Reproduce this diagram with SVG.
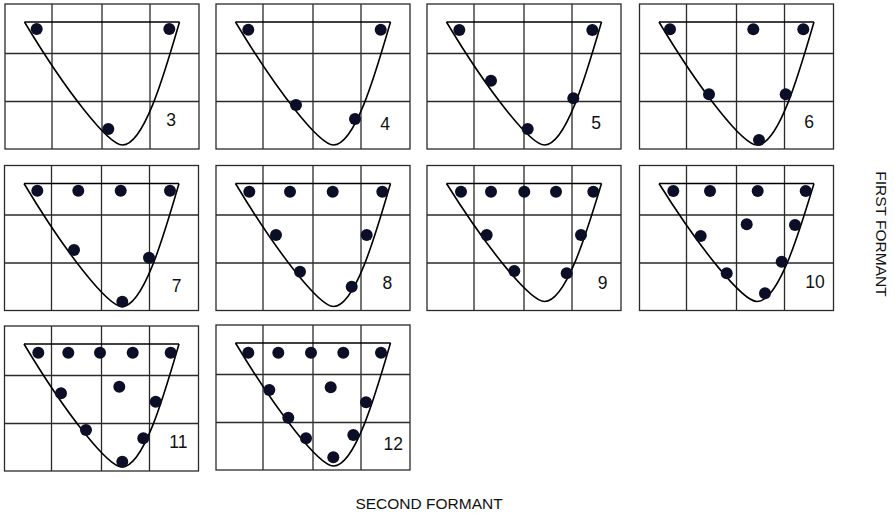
<svg xmlns="http://www.w3.org/2000/svg" xmlns:xlink="http://www.w3.org/1999/xlink" width="895" height="514" viewBox="0 0 895 514">
<style>
.grid{fill:none;stroke:#2a2a2a;stroke-width:1.3}
.curve{fill:none;stroke:#000;stroke-width:1.6}
.dot{fill:#0b0e26}
.num{font-family:"Liberation Sans",Arial,sans-serif;font-size:17.5px;fill:#111;text-anchor:middle}
.axis{font-family:"Liberation Sans",Arial,sans-serif;font-size:15.5px;fill:#111;text-anchor:middle}
</style>
<defs>
<g id="frame">
<rect class="grid" x="0" y="0" width="194" height="145"/>
<path class="grid" d="M47,0V145M97,0V145M145,0V145M0,49.5H194M0,97.5H194"/>
<path class="curve" d="M19.5,18H174.5"/>
</g>
<path id="curve" class="curve" d="M19.5,18C61.5,88 103.5,141 117.5,141C139.5,141 160.5,66 174.5,18"/>
<path id="curveB" class="curve" d="M19.5,18C61.5,85 103.5,136 117.5,136C139.5,136 160.5,64 174.5,18"/>
</defs>
<rect width="895" height="514" fill="#fff"/>

<g id="panel-3">
<use xlink:href="#frame" x="5" y="4"/><use xlink:href="#curve" x="5" y="4"/>
<circle class="dot" cx="36.7" cy="29" r="6"/><circle class="dot" cx="169.3" cy="29" r="6"/><circle class="dot" cx="108.3" cy="129" r="6"/>
<text class="num" x="171" y="126">3</text>
</g>
<g id="panel-4">
<use xlink:href="#frame" x="216" y="4"/><use xlink:href="#curve" x="216" y="4"/>
<circle class="dot" cx="248.3" cy="29.7" r="6"/><circle class="dot" cx="380.7" cy="29.7" r="6"/><circle class="dot" cx="296" cy="105" r="6"/><circle class="dot" cx="355" cy="119" r="6"/>
<text class="num" x="385" y="130">4</text>
</g>
<g id="panel-5">
<use xlink:href="#frame" x="427" y="4"/><use xlink:href="#curve" x="427" y="4"/>
<circle class="dot" cx="459.3" cy="30" r="6"/><circle class="dot" cx="592.3" cy="30" r="6"/><circle class="dot" cx="491" cy="80.7" r="6"/><circle class="dot" cx="573.3" cy="98.3" r="6"/><circle class="dot" cx="527.7" cy="129" r="6"/>
<text class="num" x="596" y="128.5">5</text>
</g>
<g id="panel-6">
<use xlink:href="#frame" x="639.5" y="4"/><use xlink:href="#curve" x="639.5" y="4"/>
<circle class="dot" cx="670" cy="29.3" r="6"/><circle class="dot" cx="753.3" cy="29.3" r="6"/><circle class="dot" cx="803.3" cy="29.3" r="6"/><circle class="dot" cx="709" cy="94.3" r="6"/><circle class="dot" cx="785.7" cy="94.3" r="6"/><circle class="dot" cx="759" cy="140" r="6"/>
<text class="num" x="809" y="128.3">6</text>
</g>

<g id="panel-7">
<use xlink:href="#frame" x="4.5" y="165.5"/><use xlink:href="#curve" x="4.5" y="165.5"/>
<circle class="dot" cx="37.3" cy="190.7" r="6"/><circle class="dot" cx="78.3" cy="190.7" r="6"/><circle class="dot" cx="120.7" cy="190.7" r="6"/><circle class="dot" cx="170" cy="190.7" r="6"/><circle class="dot" cx="74" cy="250" r="6"/><circle class="dot" cx="149" cy="257.7" r="6"/><circle class="dot" cx="122.3" cy="301.7" r="6"/>
<text class="num" x="176.7" y="291.7">7</text>
</g>
<g id="panel-8">
<use xlink:href="#frame" x="216" y="165.5"/><use xlink:href="#curve" x="216" y="165.5"/>
<circle class="dot" cx="249.3" cy="191.7" r="6"/><circle class="dot" cx="290" cy="191.7" r="6"/><circle class="dot" cx="332.7" cy="191.7" r="6"/><circle class="dot" cx="382.3" cy="191.7" r="6"/><circle class="dot" cx="276" cy="235" r="6"/><circle class="dot" cx="366.7" cy="235" r="6"/><circle class="dot" cx="300" cy="271.7" r="6"/><circle class="dot" cx="351.7" cy="286.7" r="6"/>
<text class="num" x="387.3" y="289.3">8</text>
</g>
<g id="panel-9">
<use xlink:href="#frame" x="427" y="165.5"/><use xlink:href="#curveB" x="427" y="165.5"/>
<circle class="dot" cx="461" cy="191.7" r="6"/><circle class="dot" cx="491" cy="191.7" r="6"/><circle class="dot" cx="524.3" cy="191.7" r="6"/><circle class="dot" cx="556" cy="191.7" r="6"/><circle class="dot" cx="593.3" cy="191.7" r="6"/><circle class="dot" cx="486.7" cy="235" r="6"/><circle class="dot" cx="581" cy="235" r="6"/><circle class="dot" cx="514.3" cy="271" r="6"/><circle class="dot" cx="566.7" cy="273.3" r="6"/>
<text class="num" x="602.7" y="289.3">9</text>
</g>
<g id="panel-10">
<use xlink:href="#frame" x="639.5" y="165.5"/><use xlink:href="#curveB" x="639.5" y="165.5"/>
<circle class="dot" cx="673.3" cy="191" r="6"/><circle class="dot" cx="710" cy="191" r="6"/><circle class="dot" cx="757.7" cy="191" r="6"/><circle class="dot" cx="805.7" cy="191" r="6"/><circle class="dot" cx="746.7" cy="224.3" r="6"/><circle class="dot" cx="795" cy="225" r="6"/><circle class="dot" cx="700.7" cy="236" r="6"/><circle class="dot" cx="781.7" cy="261.7" r="6"/><circle class="dot" cx="726.7" cy="273.3" r="6"/><circle class="dot" cx="765" cy="293.3" r="6"/>
<text class="num" x="815" y="288.3">10</text>
</g>

<g id="panel-11">
<use xlink:href="#frame" x="4.5" y="326"/><use xlink:href="#curve" x="4.5" y="326"/>
<circle class="dot" cx="38.3" cy="352.7" r="6"/><circle class="dot" cx="68.3" cy="352.7" r="6"/><circle class="dot" cx="100" cy="352.7" r="6"/><circle class="dot" cx="132.7" cy="352.7" r="6"/><circle class="dot" cx="170.7" cy="352.7" r="6"/><circle class="dot" cx="61" cy="393.3" r="6"/><circle class="dot" cx="119.3" cy="386.7" r="6"/><circle class="dot" cx="155.7" cy="401.7" r="6"/><circle class="dot" cx="86" cy="430" r="6"/><circle class="dot" cx="143.3" cy="438.3" r="6"/><circle class="dot" cx="122.3" cy="461.7" r="6"/>
<text class="num" x="178.3" y="448.3">11</text>
</g>
<g id="panel-12">
<use xlink:href="#frame" x="216" y="325"/><use xlink:href="#curve" x="216" y="325"/>
<circle class="dot" cx="248.3" cy="352.7" r="6"/><circle class="dot" cx="278.3" cy="352.7" r="6"/><circle class="dot" cx="311" cy="352.7" r="6"/><circle class="dot" cx="343.3" cy="352.7" r="6"/><circle class="dot" cx="381" cy="352.7" r="6"/><circle class="dot" cx="269.3" cy="390" r="6"/><circle class="dot" cx="330.7" cy="387.3" r="6"/><circle class="dot" cx="366" cy="402.3" r="6"/><circle class="dot" cx="288.3" cy="417.7" r="6"/><circle class="dot" cx="306" cy="438.3" r="6"/><circle class="dot" cx="353.3" cy="435" r="6"/><circle class="dot" cx="333.3" cy="457.3" r="6"/>
<text class="num" x="393.3" y="450">12</text>
</g>

<g id="connectors"></g>

<g id="axis-labels">
<text class="axis" x="429" y="509">SECOND FORMANT</text>
<text class="axis" transform="translate(876,234) rotate(90)">FIRST FORMANT</text>
</g>
</svg>
